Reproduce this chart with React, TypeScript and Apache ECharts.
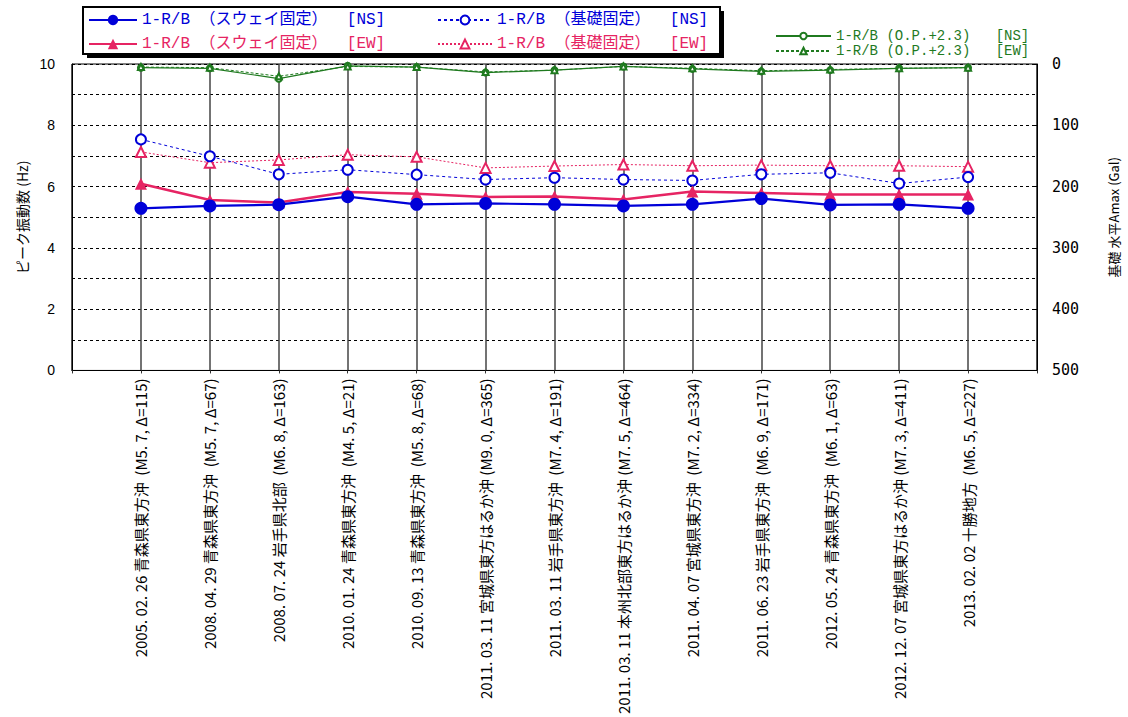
import React, { useEffect, useRef } from "react";
import * as echarts from "echarts";

const categories = [
  "2005. 02. 26 青森県東方沖  (M5. 7, Δ=115)",
  "2008. 04. 29 青森県東方沖  (M5. 7, Δ=67)",
  "2008. 07. 24 岩手県北部  (M6. 8, Δ=163)",
  "2010. 01. 24 青森県東方沖  (M4. 5, Δ=21)",
  "2010. 09. 13 青森県東方沖  (M5. 8, Δ=68)",
  "2011. 03. 11 宮城県東方はるか沖 (M9. 0, Δ=365)",
  "2011. 03. 11 岩手県東方沖  (M7. 4, Δ=191)",
  "2011. 03. 11 本州北部東方はるか沖 (M7. 5, Δ=464)",
  "2011. 04. 07 宮城県東方沖  (M7. 2, Δ=334)",
  "2011. 06. 23 岩手県東方沖  (M6. 9, Δ=171)",
  "2012. 05. 24 青森県東方沖  (M6. 1, Δ=63)",
  "2012. 12. 07 宮城県東方はるか沖 (M7. 3, Δ=411)",
  "2013. 02. 02 十勝地方  (M6. 5, Δ=227)",
];

// Peak frequency (Hz), left axis
const swayNS = [5.29, 5.37, 5.41, 5.67, 5.42, 5.45, 5.42, 5.37, 5.42, 5.61, 5.40, 5.42, 5.29];
const swayEW = [6.09, 5.56, 5.48, 5.82, 5.77, 5.66, 5.68, 5.58, 5.84, 5.79, 5.74, 5.74, 5.74];
const baseNS = [7.54, 6.99, 6.40, 6.55, 6.39, 6.23, 6.29, 6.23, 6.20, 6.40, 6.45, 6.10, 6.31];
const baseEW = [7.13, 6.78, 6.87, 7.04, 6.97, 6.61, 6.67, 6.72, 6.68, 6.70, 6.68, 6.68, 6.65];
// Amax (Gal), right axis (inverted)
const opNS = [6, 7, 24, 3, 5, 14, 10, 4, 8, 12, 10, 7, 6];
const opEW = [5, 6, 20, 4, 5, 13, 10, 4, 7, 11, 9, 7, 6];

const leftTicks = [0, 2, 4, 6, 8, 10];

const names = {
  swayNS: "1-R/B （スウェイ固定）  [NS]",
  swayEW: "1-R/B （スウェイ固定）  [EW]",
  baseNS: "1-R/B （基礎固定）  [NS]",
  baseEW: "1-R/B （基礎固定）  [EW]",
  opNS: "1-R/B (O.P.+2.3)   [NS]",
  opEW: "1-R/B (O.P.+2.3)   [EW]",
};

const BLUE = "#0000D8";
const PINK = "#E62463";
const GREEN = "#1F7A1F";

const pad = (a: number[]) => ["-", ...a, "-"];

export default function App() {
  const ref = useRef<HTMLDivElement>(null);
  useEffect(() => {
    if (!ref.current) return;
    const chart = echarts.init(ref.current, undefined, { renderer: "svg" });
    const jpFont = "'Noto Sans CJK JP', sans-serif";
    const monoFont = "'Liberation Mono', 'Noto Sans CJK JP', monospace";
    const mkLegend = (name: string, color: string, left: number, top: number, itemWidth: number, itemHeight: number, fontSize: number) => ({
      data: [{ name, textStyle: { color } }],
      left,
      top,
      padding: 0,
      itemWidth,
      itemHeight,
      itemGap: 0,
      selectedMode: false,
      z: 10,
      textStyle: { fontFamily: monoFont, fontSize, lineHeight: fontSize, color },
    });
    chart.setOption({
      animation: false,
      backgroundColor: "#fff",
      graphic: [
        { type: "rect", z: 1, shape: { x: 87, y: 11, width: 637, height: 47 }, style: { fill: "#000" } },
        { type: "rect", z: 2, shape: { x: 83, y: 7, width: 637, height: 47 }, style: { fill: "#fff", stroke: "#000", lineWidth: 2 } },
      ],
      legend: [
        mkLegend(names.swayNS, BLUE, 88, 12, 48, 13, 16),
        mkLegend(names.baseNS, BLUE, 437, 12, 54, 11, 16),
        mkLegend(names.swayEW, PINK, 88, 36, 48, 13, 16),
        mkLegend(names.baseEW, PINK, 437, 36, 54, 11, 16),
        mkLegend(names.opNS, GREEN, 775, 29, 55, 8, 14),
        mkLegend(names.opEW, GREEN, 775, 44, 55, 8, 14),
      ],
      grid: { left: 72, right: 88, top: 64, bottom: 345, show: true, borderColor: "#000", borderWidth: 1 },
      xAxis: {
        type: "category",
        data: ["", ...categories, ""],
        boundaryGap: false,
        axisLine: { show: true, lineStyle: { color: "#000" } },
        axisTick: { show: true, interval: 0, length: 3, lineStyle: { color: "#333" } },
        axisLabel: { interval: 0, rotate: 90, fontSize: 15, margin: 8, color: "#000", fontFamily: jpFont },
        splitLine: { show: true, interval: 0, lineStyle: { color: "#444", width: 1.5 } },
      },
      yAxis: [
        {
          type: "value",
          min: 0,
          max: 10,
          interval: 1,
          position: "left",
          name: "ピーク振動数 (Hz)",
          nameLocation: "middle",
          nameGap: 42,
          nameRotate: 90,
          nameTextStyle: { fontSize: 14, color: "#000", fontFamily: jpFont },
          axisLine: { show: true, lineStyle: { color: "#000" } },
          axisTick: { show: false },
          axisLabel: {
            formatter: (v: number) => (leftTicks.includes(Math.round(v)) && Math.abs(v - Math.round(v)) < 1e-6 ? String(Math.round(v)) : ""),
            fontSize: 14,
            color: "#000",
            margin: 17,
            fontFamily: "'Liberation Sans', Arial, sans-serif",
          },
          splitLine: { show: true, lineStyle: { color: "#000", type: [3, 3], width: 1 } },
        },
        {
          type: "value",
          min: 0,
          max: 500,
          interval: 100,
          inverse: true,
          position: "right",
          name: "基礎 水平Amax (Gal)",
          nameLocation: "middle",
          nameGap: 70,
          nameRotate: 90,
          nameTextStyle: { fontSize: 13, color: "#000", fontFamily: jpFont },
          axisLine: { show: true, lineStyle: { color: "#000" } },
          axisTick: { show: true, inside: true, length: 5, lineStyle: { color: "#000" } },
          axisLabel: { fontSize: 15, margin: 15, color: "#000", fontFamily: "'DejaVu Sans Mono', monospace" },
          splitLine: { show: false },
        },
      ],
      series: [
        {
          name: names.opNS, type: "line", yAxisIndex: 1, data: pad(opNS),
          symbol: "emptyCircle", symbolSize: 6, color: GREEN,
          lineStyle: { color: GREEN, width: 1.2 }, itemStyle: { color: GREEN, borderWidth: 1.2 },
        },
        {
          name: names.opEW, type: "line", yAxisIndex: 1, data: pad(opEW),
          symbol: "emptyTriangle", symbolSize: 6, color: GREEN,
          lineStyle: { color: GREEN, width: 1, type: [3, 2] }, itemStyle: { color: GREEN, borderWidth: 1 },
        },
        {
          name: names.baseEW, type: "line", data: pad(baseEW),
          symbol: "emptyTriangle", symbolSize: 10, color: PINK,
          lineStyle: { color: PINK, width: 1, type: [2, 2] }, itemStyle: { color: PINK, borderWidth: 1.2 },
        },
        {
          name: names.baseNS, type: "line", data: pad(baseNS),
          symbol: "emptyCircle", symbolSize: 10, color: BLUE,
          lineStyle: { color: BLUE, width: 1, type: [3, 3] }, itemStyle: { color: BLUE, borderWidth: 1.2 },
        },
        {
          name: names.swayEW, type: "line", data: pad(swayEW),
          symbol: "triangle", symbolSize: 12, color: PINK,
          lineStyle: { color: PINK, width: 2.5 }, itemStyle: { color: PINK },
        },
        {
          name: names.swayNS, type: "line", data: pad(swayNS),
          symbol: "circle", symbolSize: 13, color: BLUE,
          lineStyle: { color: BLUE, width: 2.2 }, itemStyle: { color: BLUE },
        },
      ],
    });
    return () => chart.dispose();
  }, []);
  return <div ref={ref} style={{ position: "fixed", left: 0, top: 0, width: 1128, height: 717 }} />;
}
